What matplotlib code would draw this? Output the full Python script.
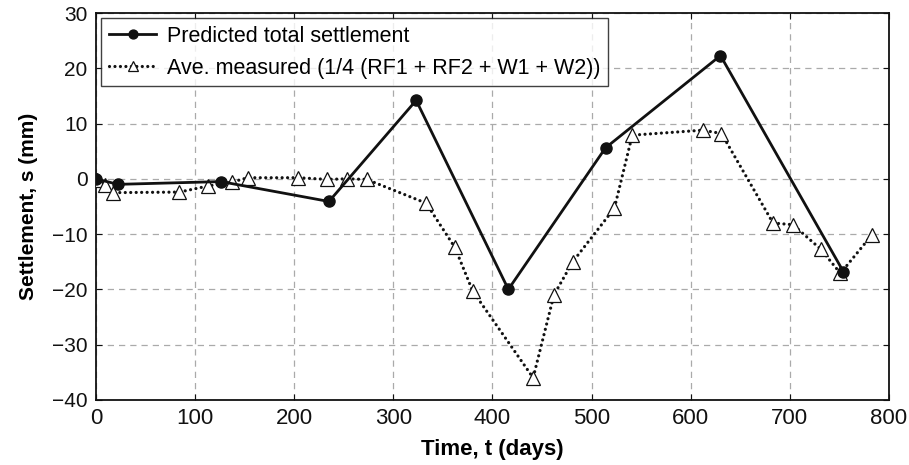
import matplotlib
matplotlib.use("Agg")
import matplotlib.pyplot as plt
from matplotlib import font_manager

# Predicted total settlement
pred_t = [0, 22, 126, 235, 323, 416, 514, 630, 754]
pred_s = [0.0, -1.0, -0.5, -4.1, 14.2, -20.0, 5.6, 22.3, -16.8]

# Average of measured settlements (RF1, RF2, W1, W2)
meas_t = [1, 9, 17, 84, 113, 137, 153, 204, 233, 253, 273, 333, 362, 380,
          441, 462, 481, 523, 541, 612, 631, 683, 703, 731, 751, 783]
meas_s = [-0.2, -1.2, -2.5, -2.4, -1.3, -0.6, 0.2, 0.2, -0.1, 0.0, -0.1,
          -4.4, -12.4, -20.3, -36.0, -21.0, -15.0, -5.3, 7.9, 8.8, 8.2,
          -8.0, -8.3, -12.7, -17.1, -10.1]

x_ticks = [0, 100, 200, 300, 400, 500, 600, 700, 800]
y_ticks = [-40, -30, -20, -10, 0, 10, 20, 30]

installed = {f.name for f in font_manager.fontManager.ttflist}
narrow = "Liberation Sans Narrow" if "Liberation Sans Narrow" in installed else "Liberation Sans"
plt.rcParams["font.family"] = ["Liberation Sans", "DejaVu Sans"]

fig = plt.figure(figsize=(9.09, 4.65), dpi=100)
ax = fig.add_axes([0.1056, 0.140, 0.8724, 0.832])

ax.plot(pred_t, pred_s, color="#111111", lw=2.0, marker="o", ms=8,
        mfc="#111111", mec="#111111", label="Predicted total settlement", zorder=4)
ax.plot(meas_t, meas_s, color="#111111", lw=2.3, ls=(0, (0.01, 1.7)),
        dash_capstyle="round", marker="^", ms=9.5, mfc="white", mec="#111111",
        mew=0.9, label="Ave. measured (1/4 (RF1 + RF2 + W1 + W2))", zorder=3)

ax.set_xlim(0, 800)
ax.set_ylim(-40, 30)
ax.set_xticks(x_ticks)
ax.set_yticks(y_ticks)
ax.grid(True, color="#aaaaaa", ls=(0, (5, 4)), lw=0.9)
ax.set_axisbelow(True)
ax.tick_params(direction="in", length=4, width=0.8, top=True, right=True,
               labelsize=15, pad=6, colors="#111111")
for lab in ax.get_xticklabels():
    lab.set_fontfamily(narrow)
    lab.set_fontsize(16)
for sp in ax.spines.values():
    sp.set_color("#111111")
    sp.set_linewidth(1.3)

ax.set_xlabel("Time, t (days)", fontsize=16, fontweight="bold",
              fontfamily=narrow, labelpad=7)
ax.set_ylabel("Settlement, s (mm)", fontsize=15, fontweight="bold", labelpad=10)

leg = ax.legend(loc="upper left", fontsize=15.5, frameon=True, fancybox=False,
                handlelength=2.2, borderaxespad=0.25, borderpad=0.35,
                labelspacing=0.5, handletextpad=0.5, markerscale=0.8)
leg.get_frame().set_edgecolor("#111111")
leg.get_frame().set_linewidth(1.0)

fig.savefig("out.png", dpi=100)
